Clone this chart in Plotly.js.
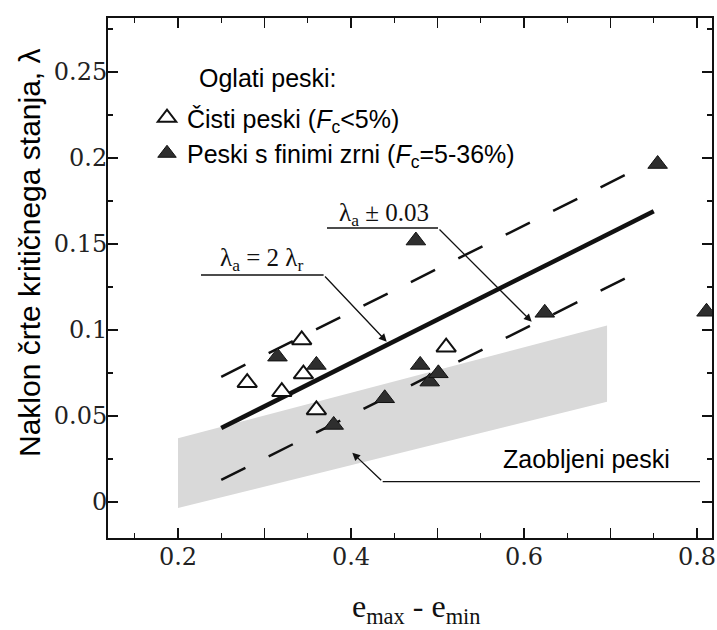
<!DOCTYPE html>
<html><head><meta charset="utf-8">
<script src="https://cdn.plot.ly/plotly-3.0.1.min.js"></script>
<style>html,body{margin:0;padding:0;background:#fff}#chart{width:717px;height:630px}</style>
</head><body><div id="chart"></div>
<script>
// ---- data ----
const xTickStart = 0.2, xTickStep = 0.1, xLabelEvery = 2;   // labels: 0.2, 0.4, 0.6, 0.8
const yTickVals = [0, 0.05, 0.1, 0.15, 0.2, 0.25];
const yTickText = ['0', '0.05', '0.1', '0.15', '0.2', '0.25'];

const cleanName = 'Čisti peski (<i>F</i><sub>c</sub>&lt;5%)';
const cleanX = [0.280, 0.320, 0.343, 0.345, 0.360, 0.510];
const cleanY = [0.0694, 0.0641, 0.0942, 0.0744, 0.0535, 0.0900];

const siltyName = 'Peski s finimi zrni (<i>F</i><sub>c</sub>=5-36%)';
const siltyX = [0.315, 0.360, 0.380, 0.439, 0.475, 0.480, 0.491, 0.501, 0.624, 0.7545, 0.811];
const siltyY = [0.0845, 0.0797, 0.0448, 0.0603, 0.152, 0.0797, 0.0700, 0.0748, 0.110, 0.1965, 0.1106];

const trendX = [0.25, 0.75];
const trendY = [0.043, 0.169];
const upperX = [0.25, 0.73];
const upperY = [0.0728, 0.1934];
const lowerX = [0.25, 0.73];
const lowerY = [0.0128, 0.1333];

const roundedX = [0.2, 0.2, 0.696, 0.696, 0.2];
const roundedY = [-0.0035, 0.037, 0.1026, 0.0583, -0.0035];

// ---- helpers: pixel -> data (for annotation placement only) ----
const X = px => 0.2 + (px - 178) / 865;
const Y = py => (502 - py) / 1720;

const traces = [
  {x: roundedX, y: roundedY, type: 'scatter', mode: 'lines', fill: 'toself',
   fillcolor: '#d9d9d9', line: {width: 0, color: 'rgba(0,0,0,0)'}, showlegend: false, hoverinfo: 'skip'},
  {x: upperX, y: upperY, type: 'scatter', mode: 'lines',
   line: {color: '#111', width: 2.5, dash: '27px,26px'}, showlegend: false},
  {x: lowerX, y: lowerY, type: 'scatter', mode: 'lines',
   line: {color: '#111', width: 2.5, dash: '27px,26px'}, showlegend: false},
  {x: trendX, y: trendY, type: 'scatter', mode: 'lines',
   line: {color: '#111', width: 4.5}, showlegend: false},
  {x: cleanX, y: cleanY, type: 'scatter', mode: 'markers', name: cleanName,
   marker: {symbol: 'triangle-up', size: 17, color: '#fff', line: {color: '#111', width: 2}}},
  {x: siltyX, y: siltyY, type: 'scatter', mode: 'markers', name: siltyName,
   marker: {symbol: 'triangle-up', size: 17, color: '#2e2e2e', line: {color: '#111', width: 1}}}
];

const serif = 'Liberation Serif, Times New Roman, serif';
const sans = 'Liberation Sans, Arial, sans-serif';
const tickSerif = 'DejaVu Serif, serif';

const layout = {
  width: 717, height: 630,
  margin: {l: 108, r: 5, t: 18, b: 92},
  paper_bgcolor: '#fff', plot_bgcolor: '#fff',
  showlegend: true,
  legend: {x: (147 - 108) / 604, y: 1 - (95 - 18) / 520, xanchor: 'left', yanchor: 'top',
           bgcolor: 'rgba(0,0,0,0)', font: {family: sans, size: 25, color: '#000'}},
  xaxis: {range: [X(108), X(712)], tickmode: 'linear', tick0: xTickStart, dtick: xTickStep,
          ticklabelstep: xLabelEvery, tickformat: '.1f',
          ticks: 'inside', ticklen: 10, tickwidth: 1.5, tickcolor: '#111', ticklabelstandoff: -4,
          showline: true, linewidth: 2, linecolor: '#111', mirror: 'allticks',
          showgrid: false, zeroline: false,
          tickfont: {family: tickSerif, size: 24, color: '#222'},
          minor: {tick0: 0.15, dtick: 0.1, ticks: 'inside', ticklen: 5, tickwidth: 1.2, tickcolor: '#111', showgrid: false}},
  yaxis: {range: [Y(538), Y(18)], tickmode: 'array', tickvals: yTickVals, ticktext: yTickText,
          ticks: 'inside', ticklen: 10, tickwidth: 1.5, tickcolor: '#111', ticklabelstandoff: -6,
          showline: true, linewidth: 2, linecolor: '#111', mirror: 'allticks',
          showgrid: false, zeroline: false,
          tickfont: {family: tickSerif, size: 24, color: '#222'},
          minor: {tick0: 0.025, dtick: 0.05, ticks: 'inside', ticklen: 5, tickwidth: 1.2, tickcolor: '#111', showgrid: false}},
  shapes: [
    {type: 'line', xref: 'x', yref: 'y', x0: X(201), y0: Y(275), x1: X(323.6), y1: Y(275), line: {color: '#111', width: 1.3}},
    {type: 'line', xref: 'x', yref: 'y', x0: X(327), y0: Y(228), x1: X(438), y1: Y(228), line: {color: '#111', width: 1.3}},
    {type: 'line', xref: 'x', yref: 'y', x0: X(382.7), y0: Y(481.7), x1: X(700), y1: Y(481.7), line: {color: '#111', width: 1.3}}
  ],
  annotations: [
    {text: 'Oglati peski:', xref: 'x', yref: 'y', x: X(197), y: Y(78), xanchor: 'left', yanchor: 'middle',
     showarrow: false, font: {family: sans, size: 25, color: '#000'}},
    {text: 'λ<sub>a</sub> = 2 λ<sub>r</sub>', xref: 'x', yref: 'y', x: X(261), y: Y(259), xanchor: 'center', yanchor: 'middle',
     showarrow: false, font: {family: serif, size: 25, color: '#111'}},
    {text: 'λ<sub>a</sub> ± 0.03', xref: 'x', yref: 'y', x: X(384), y: Y(214), xanchor: 'center', yanchor: 'middle',
     showarrow: false, font: {family: serif, size: 25, color: '#111'}},
    {text: 'Zaobljeni peski', xref: 'x', yref: 'y', x: X(501), y: Y(459), xanchor: 'left', yanchor: 'middle',
     showarrow: false, font: {family: sans, size: 25, color: '#000'}},
    {text: '', xref: 'x', yref: 'y', axref: 'x', ayref: 'y', x: X(386.7), y: Y(341.7), ax: X(323.6), ay: Y(275),
     showarrow: true, arrowhead: 2, arrowsize: 1.2, arrowwidth: 1.3, arrowcolor: '#111', standoff: 0},
    {text: '', xref: 'x', yref: 'y', axref: 'x', ayref: 'y', x: X(531.7), y: Y(321.7), ax: X(438), ay: Y(228),
     showarrow: true, arrowhead: 2, arrowsize: 1.2, arrowwidth: 1.3, arrowcolor: '#111', standoff: 0},
    {text: '', xref: 'x', yref: 'y', axref: 'x', ayref: 'y', x: X(352.3), y: Y(452.7), ax: X(382.7), ay: Y(481.7),
     showarrow: true, arrowhead: 2, arrowsize: 1.2, arrowwidth: 1.3, arrowcolor: '#111', standoff: 0},
    {text: 'Naklon črte kritičnega stanja, λ', xref: 'paper', yref: 'paper', x: (30 - 108) / 604, y: 1 - (253 - 18) / 520,
     xanchor: 'center', yanchor: 'middle', textangle: -90, showarrow: false, font: {family: sans, size: 30, color: '#000'}},
    {text: 'e<sub>max</sub> - e<sub>min</sub>', xref: 'paper', yref: 'paper', x: (416 - 108) / 604, y: 1 - (608 - 18) / 520,
     xanchor: 'center', yanchor: 'middle', showarrow: false, font: {family: serif, size: 32, color: '#111'}}
  ]
};

Plotly.newPlot('chart', traces, layout, {displayModeBar: false, staticPlot: true});
</script>
</body></html>
